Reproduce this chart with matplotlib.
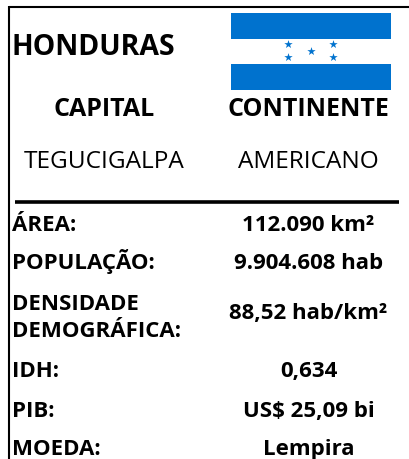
import matplotlib
matplotlib.use('Agg')
import matplotlib.pyplot as plt
from matplotlib.patches import Rectangle

plt.rcParams['font.family'] = ['Open Sans', 'DejaVu Sans']

country = 'HONDURAS'
headers = ['CAPITAL', 'CONTINENTE']
header_values = ['TEGUCIGALPA', 'AMERICANO']
row_labels = ['ÁREA:', 'POPULAÇÃO:', 'DENSIDADE', 'DEMOGRÁFICA:', 'IDH:', 'PIB:', 'MOEDA:']
label_y = [231, 269, 310, 337, 377, 417, 455]
row_values = ['112.090 km²', '9.904.608 hab', '88,52 hab/km²', '0,634', 'US$ 25,09 bi', 'Lempira']
value_y = [231, 269, 319, 377, 417, 455]

star_x = [288, 333, 311, 288, 333]
star_y = [44, 44, 51, 57, 57]

fig = plt.figure(figsize=(4.09, 4.59), dpi=100)
ax = fig.add_axes([0, 0, 1, 1])
# pixel coordinates, same as the picture
ax.set_xlim(0, 409)
ax.set_ylim(459, 0)
ax.axis('off')

# frame and rule
ax.plot([8.5, 409], [6.5, 6.5], color='black', lw=1.5, solid_capstyle='butt')
ax.plot([9, 9], [6, 459], color='black', lw=1.5, solid_capstyle='butt')
ax.plot([15, 399], [201.5, 201.5], color='black', lw=2.6, solid_capstyle='butt')

# flag
ax.add_patch(Rectangle((231, 13), 160, 26, color='#0072CE', lw=0))
ax.add_patch(Rectangle((231, 64), 160, 26, color='#0072CE', lw=0))
ax.scatter(star_x, star_y, marker='*', s=40, color='#0072CE', linewidths=0)

ax.text(12, 55, country, fontsize=20.4, fontweight='bold', va='baseline', ha='left')
ax.text(104.5, 116, headers[0], fontsize=18, fontweight='bold', va='baseline', ha='center')
ax.text(308.5, 116, headers[1], fontsize=18, fontweight='bold', va='baseline', ha='center')
ax.text(104.5, 168, header_values[0], fontsize=17.6, va='baseline', ha='center')
ax.text(308.5, 168, header_values[1], fontsize=17.6, va='baseline', ha='center')

for lab, y in zip(row_labels, label_y):
    ax.text(12, y, lab, fontsize=16, fontweight='bold', va='baseline', ha='left')
for val, y in zip(row_values, value_y):
    ax.text(308.5, y, val, fontsize=16, fontweight='bold', va='baseline', ha='center')

fig.savefig('out.png', dpi=100)
